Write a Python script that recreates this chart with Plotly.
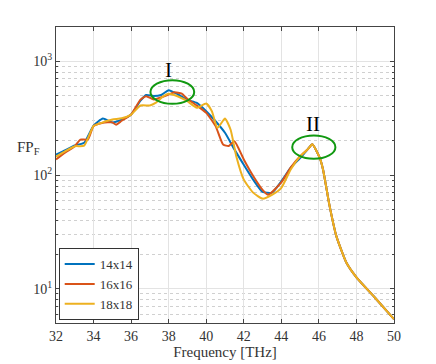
import plotly.graph_objects as go

# --- DATA ---
freq_14 = [32, 32.5, 33, 33.5, 34, 34.5, 35, 35.5, 36, 36.5, 36.8, 37.2, 37.6, 38, 38.5, 39, 39.5,
           40, 40.5, 41, 41.5, 42, 42.5, 43, 43.5, 44, 44.5, 45, 45.4, 45.65,
           46.04, 46.22, 46.57, 46.93, 47.46, 48, 49, 50]
fpf_14 = [151, 165, 182, 192, 272, 314, 290, 307, 340, 450, 505, 495, 505, 556, 510, 457, 430,
          364, 297, 235, 168, 123, 91, 71, 70, 88, 116, 141, 168, 186,
          142, 112, 53.5, 29, 17, 12.6, 8.3, 5.4]

freq_16 = [32, 32.5, 33, 33.3, 33.7, 34, 34.5, 35, 35.2, 35.5, 36, 36.5, 36.8, 37.2, 37.5, 38, 38.3,
           38.7, 39, 39.5, 40, 40.5, 40.9, 41.2, 41.5, 42, 42.5, 43, 43.3, 44, 44.5, 45, 45.4, 45.65,
           46.04, 46.22, 46.57, 46.93, 47.46, 48, 49, 50]
fpf_16 = [137, 158, 179, 205, 205, 269, 288, 290, 277, 300, 340, 460, 493, 460, 475, 510, 534,
          520, 466, 408, 352, 269, 185, 180, 198, 137, 98, 74, 67, 86, 116, 146, 168, 186,
          142, 112, 53.5, 29, 17, 12.6, 8.3, 5.4]

freq_18 = [32, 32.5, 33, 33.5, 34, 34.5, 35, 35.5, 36, 36.5, 37, 37.3, 37.7, 38, 38.5, 39, 39.5,
           40, 40.3, 40.6, 41, 41.3, 41.6, 42, 42.5, 43, 43.5, 44, 44.5, 45, 45.4, 45.65,
           46.04, 46.22, 46.57, 46.93, 47.46, 48, 49, 50]
fpf_18 = [145, 162, 179, 181, 270, 290, 307, 315, 340, 408, 408, 430, 490, 517, 490, 445, 390,
          425, 364, 259, 314, 250, 146, 91, 70, 62, 67, 77, 112, 146, 168, 186,
          142, 112, 53.5, 29, 17, 12.6, 8.3, 5.4]

series = [
    ("14x14", freq_14, fpf_14, "#0072BD"),
    ("16x16", freq_16, fpf_16, "#D95319"),
    ("18x18", freq_18, fpf_18, "#EDB120"),
]

x_ticks = [32, 34, 36, 38, 40, 42, 44, 46, 48, 50]
y_ticks = [10, 100, 1000]
y_ticktext = ["10<sup>1</sup>", "10<sup>2</sup>", "10<sup>3</sup>"]

FONT = "Liberation Serif"

fig = go.Figure()
for name, f, v, col in series:
    fig.add_trace(go.Scatter(x=f, y=v, mode="lines", name=name,
                             line=dict(color=col, width=2, shape="spline", smoothing=0.5)))

# --- annotation ellipses (shapes take data values on log axes) ---
fig.add_shape(type="circle", xref="x", yref="y", x0=37.03, x1=39.36, y0=422, y1=681,
              line=dict(color="#119911", width=2))
fig.add_shape(type="circle", xref="x", yref="y", x0=44.58, x1=46.88, y0=139, y1=222,
              line=dict(color="#119911", width=2))
fig.add_annotation(x=38, y=2.927, text="I", showarrow=False,
                   font=dict(family=FONT, size=21, color="black"))
fig.add_annotation(x=45.7, y=2.444, text="II", showarrow=False,
                   font=dict(family=FONT, size=21, color="black"))

fig.update_xaxes(range=[32, 50], tickvals=x_ticks, ticks="inside", ticklen=4,
                 showline=True, linecolor="#444", mirror="ticks", linewidth=1,
                 showgrid=True, gridcolor="#e3e3e3", zeroline=False, automargin=False,
                 title=dict(text="Frequency [THz]", font=dict(family=FONT, size=15, color="#333"), standoff=2),
                 tickfont=dict(family=FONT, size=14, color="#333"))
fig.update_yaxes(type="log", range=[0.699, 3.301], tickvals=y_ticks, ticktext=y_ticktext,
                 ticks="inside", ticklen=4, showline=True, linecolor="#444", mirror="ticks", linewidth=1,
                 showgrid=True, gridcolor="#e3e3e3", zeroline=False, automargin=False,
                 minor=dict(dtick="D1", ticks="inside", ticklen=2, showgrid=True,
                            gridcolor="#d0d0d0", griddash="dot"),
                 tickfont=dict(family=FONT, size=14, color="#333"))

fig.add_annotation(xref="paper", yref="paper", x=-0.12, y=0.59, xanchor="left", yanchor="middle",
                   text="FP<sub>F</sub>", showarrow=False,
                   font=dict(family=FONT, size=15, color="#333"))

fig.update_layout(
    width=436, height=364,
    margin=dict(l=56, r=42, t=27, b=41),
    paper_bgcolor="white", plot_bgcolor="white",
    font=dict(family=FONT, color="#333"),
    legend=dict(x=0.008, y=0.01, xanchor="left", yanchor="bottom",
                bgcolor="white", bordercolor="#333", borderwidth=1,
                font=dict(family=FONT, size=13, color="#333"),
                tracegroupgap=0, itemwidth=30),
    showlegend=True,
)

# drop the default 8px body margin so the figure sits at the window's corner
fig.write_html("out.html", config={"displayModeBar": False},
               post_script="document.body.style.margin='0px';")
